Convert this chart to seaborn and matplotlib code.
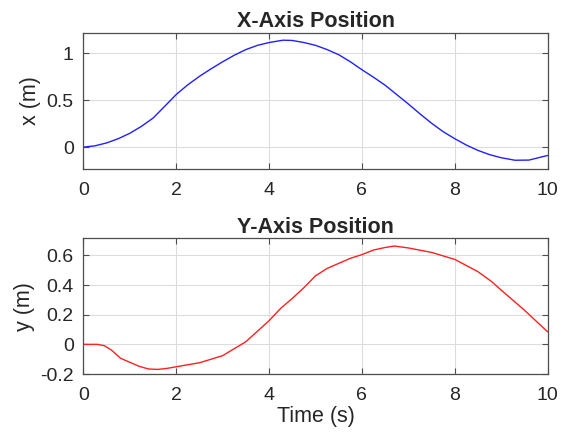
import matplotlib
matplotlib.use("Agg")
import matplotlib.pyplot as plt
import seaborn as sns
import numpy as np

# ---- data ----
t_x = [0, 0.25, 0.5, 0.75, 1.0, 1.25, 1.5, 1.75, 2.0, 2.25, 2.5, 2.75, 3.0,
       3.25, 3.5, 3.75, 4.0, 4.3, 4.5, 4.75, 5.0, 5.25, 5.5, 5.75, 6.0,
       6.25, 6.5, 6.75, 7.0, 7.25, 7.5, 7.75, 8.0, 8.25, 8.5, 8.75, 9.0,
       9.3, 9.6, 10.0]
x_pos = [0, 0.014, 0.045, 0.09, 0.148, 0.222, 0.31, 0.435, 0.562, 0.665,
         0.755, 0.835, 0.91, 0.98, 1.04, 1.085, 1.115, 1.14, 1.137, 1.115,
         1.085, 1.04, 0.985, 0.91, 0.825, 0.745, 0.66, 0.56, 0.46, 0.355,
         0.255, 0.165, 0.09, 0.022, -0.035, -0.08, -0.113, -0.14, -0.138,
         -0.089]

t_y = [0, 0.3, 0.45, 0.6, 0.8, 1.0, 1.2, 1.4, 1.6, 1.8, 2.0, 2.5, 3.0, 3.5,
       4.0, 4.25, 4.5, 4.75, 5.0, 5.25, 5.5, 5.75, 6.0, 6.25, 6.5, 6.7, 7.0,
       7.5, 8.0, 8.5, 8.8, 9.0, 9.5, 10.0]
y_pos = [0, 0, -0.009, -0.038, -0.094, -0.121, -0.148, -0.166, -0.169,
         -0.162, -0.151, -0.124, -0.076, 0.018, 0.16, 0.243, 0.31, 0.382,
         0.462, 0.512, 0.546, 0.58, 0.605, 0.636, 0.653, 0.663, 0.65, 0.62,
         0.573, 0.49, 0.422, 0.366, 0.231, 0.085]

x_ticks = [0, 2, 4, 6, 8, 10]
x_tick_labels = ["0", "2", "4", "6", "8", "10"]
top_yticks = [0, 0.5, 1]
top_ytick_labels = ["0", "0.5", "1"]
bot_yticks = [-0.2, 0, 0.2, 0.4, 0.6]
bot_ytick_labels = ["-0.2", "0", "0.2", "0.4", "0.6"]

titles = ["X-Axis Position", "Y-Axis Position"]
ylabels = ["x (m)", "y (m)"]
xlabel = "Time (s)"

# ---- style ----
sns.set_theme(style="white")
plt.rcParams["font.family"] = ["Liberation Sans", "DejaVu Sans"]
plt.rcParams["axes.unicode_minus"] = False

text_col = "#262626"
fig = plt.figure(figsize=(5.68, 4.34), dpi=100)
ax1 = fig.add_axes([0.147, 0.6113, 0.817, 0.3134])
ax2 = fig.add_axes([0.147, 0.1382, 0.817, 0.3127])

sns.lineplot(x=t_x, y=x_pos, ax=ax1, color="#2020ff", linewidth=1.0,
             estimator=None, sort=False)
sns.lineplot(x=t_y, y=y_pos, ax=ax2, color="#ff2020", linewidth=1.0,
             estimator=None, sort=False)

for ax, title, yl in zip([ax1, ax2], titles, ylabels):
    ax.set_xlim(0, 10)
    ax.set_xticks(x_ticks)
    ax.set_xticklabels(x_tick_labels)
    ax.set_title(title, fontsize=15.5, fontweight="bold", color=text_col, pad=4)
    ax.set_ylabel(yl, fontsize=15.5, color=text_col, labelpad=4)
    ax.grid(True, color="#dcdcdc", linewidth=0.8)
    ax.set_axisbelow(True)
    for s in ax.spines.values():
        s.set_color("#4d4d4d")
        s.set_linewidth(0.9)
        s.set_visible(True)
    ax.tick_params(direction="in", length=4, width=0.8, color="#4d4d4d",
                   labelsize=14, labelcolor=text_col,
                   top=True, right=True, bottom=True, left=True, pad=7)
    ax.tick_params(axis="x", pad=9.5)

ax1.set_ylim(-0.23, 1.22)
ax1.set_yticks(top_yticks)
ax1.set_yticklabels(top_ytick_labels)
ax2.set_ylim(-0.2, 0.715)
ax2.set_yticks(bot_yticks)
ax2.set_yticklabels(bot_ytick_labels)
ax2.set_xlabel(xlabel, fontsize=15.5, color=text_col, labelpad=1)

fig.savefig("out.png", dpi=100, facecolor="white")
